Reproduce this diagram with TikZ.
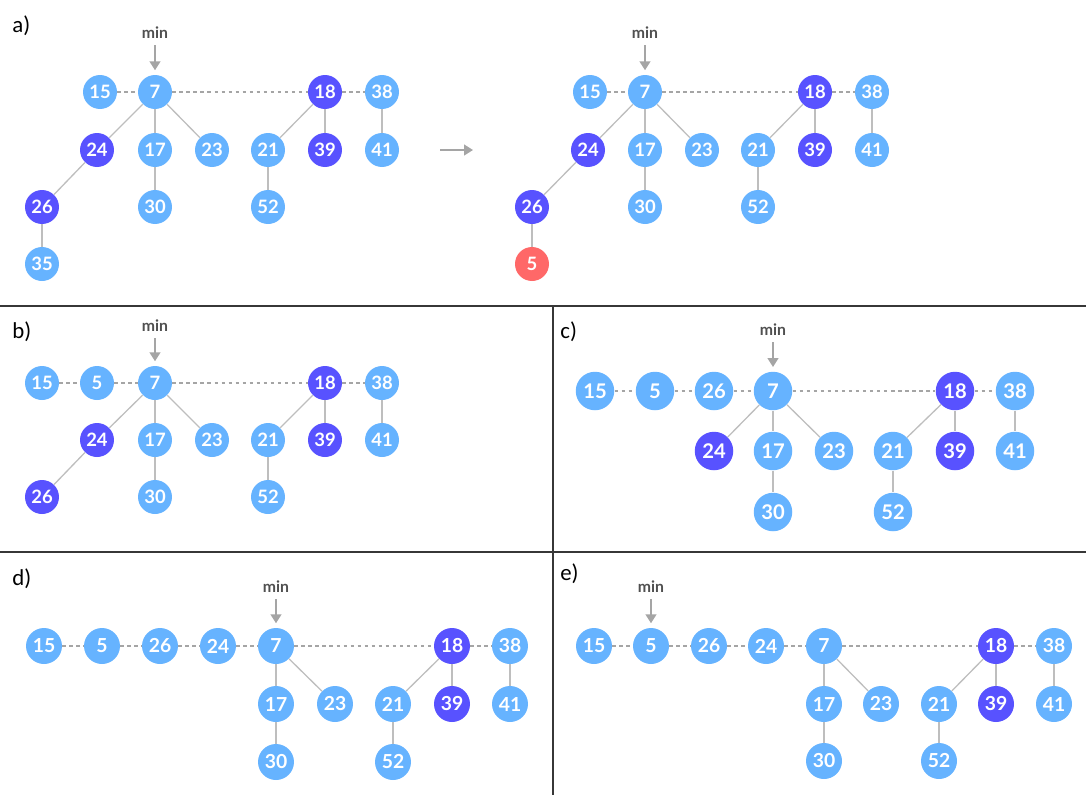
\documentclass[tikz,border=0pt]{standalone}
\usepackage{fontspec}
\setmainfont{Carlito}
\newfontfamily\latofont{Lato}
\usepackage{tikz}
\usetikzlibrary{arrows.meta}
\definecolor{myblue}{RGB}{102,179,255}
\definecolor{mypurple}{RGB}{88,82,255}
\definecolor{myred}{RGB}{255,104,104}
\definecolor{edgegray}{RGB}{190,190,190}
\definecolor{dashgray}{RGB}{165,165,165}
\definecolor{mingray}{RGB}{80,80,80}
\definecolor{framegray}{RGB}{55,55,55}
\tikzset{
  ball/.style={circle, inner sep=0pt, minimum size=0.68cm, text=white,
    font=\latofont\bfseries\fontsize{10.5}{12}\selectfont},
  bnode/.style={ball, fill=myblue},
  pnode/.style={ball, fill=mypurple},
  rnode/.style={ball, fill=myred},
  edge/.style={draw=edgegray, line width=0.75pt},
  rootlink/.style={draw=dashgray, line width=0.6pt, dash pattern=on 2pt off 2pt},
  minlabel/.style={font=\latofont\bfseries\fontsize{9}{11}\selectfont, text=mingray},
  minarrow/.style={-{Triangle[width=6pt,length=5pt]}, draw=dashgray, line width=1.1pt},
  panellabel/.style={font=\fontsize{13}{15}\selectfont, anchor=base west, inner sep=0pt},
  frame/.style={draw=framegray, line width=0.8pt}
}

\begin{document}
\begin{tikzpicture}[x=0.02cm, y=-0.02cm]
  \useasboundingbox (0,0) rectangle (1086,795);
  % Frame
  \draw[frame] (0,306) -- (1086,306);
  \draw[frame] (0,552) -- (1086,552);
  \draw[frame] (553,306) -- (553,795);
  % Panel labels
  \node[panellabel] (la) at (12,32) {a)};
  \node[panellabel] (lb) at (12,338) {b)};
  \node[panellabel] (lc) at (560,338) {c)};
  \node[panellabel] (ld) at (12,585) {d)};
  \node[panellabel] (le) at (560,580) {e)};

  % a) before
  \foreach \n/\x/\y in {15/100/92, 7/155/92, 38/382/92, 17/155/150, 23/212/150,
      21/268/150, 41/382/150, 30/155/207, 52/268/207, 35/42/264}
    \node[bnode] (a\n) at (\x,\y) {\n};
  \foreach \n/\x/\y in {18/325/92, 24/97/150, 39/325/150, 26/42/207}
    \node[pnode] (a\n) at (\x,\y) {\n};
  \foreach \u/\v in {7/24, 7/17, 7/23, 24/26, 26/35, 17/30, 18/21, 18/39, 38/41, 21/52}
    \draw[edge] (a\u) -- (a\v);
  \draw[rootlink] (a15) -- (a7) -- (a18) -- (a38);
  \node[minlabel] (amin) at (155,33) {min};
  \draw[minarrow, shorten >=2.5pt] (amin) -- (a7);
  % step arrow
  \coordinate (stepfrom) at (440,150);
  \coordinate (stepto) at (473,150);
  \draw[minarrow] (stepfrom) -- (stepto);

  % a) after
  \foreach \n/\x/\y in {15/590/92, 7/645/92, 38/872/92, 17/645/150, 23/702/150,
      21/758/150, 41/872/150, 30/645/207, 52/758/207}
    \node[bnode] (r\n) at (\x,\y) {\n};
  \foreach \n/\x/\y in {18/815/92, 24/588/150, 39/815/150, 26/532/207}
    \node[pnode] (r\n) at (\x,\y) {\n};
  \node[rnode] (r5) at (532,264) {5};
  \foreach \u/\v in {7/24, 7/17, 7/23, 24/26, 26/5, 17/30, 18/21, 18/39, 38/41, 21/52}
    \draw[edge] (r\u) -- (r\v);
  \draw[rootlink] (r15) -- (r7) -- (r18) -- (r38);
  \node[minlabel] (rmin) at (645,33) {min};
  \draw[minarrow, shorten >=2.5pt] (rmin) -- (r7);

  % b)
  \foreach \n/\x/\y in {15/42/383, 5/97/383, 7/155/383, 38/382/383, 17/155/440,
      23/212/440, 21/268/440, 41/382/440, 30/155/497, 52/268/497}
    \node[bnode] (b\n) at (\x,\y) {\n};
  \foreach \n/\x/\y in {18/325/383, 24/97/440, 39/325/440, 26/42/497}
    \node[pnode] (b\n) at (\x,\y) {\n};
  \foreach \u/\v in {7/24, 7/17, 7/23, 24/26, 17/30, 18/21, 18/39, 38/41, 21/52}
    \draw[edge] (b\u) -- (b\v);
  \draw[rootlink] (b15) -- (b5) -- (b7) -- (b18) -- (b38);
  \node[minlabel] (bmin) at (155,326) {min};
  \draw[minarrow, shorten >=2.5pt] (bmin) -- (b7);

  % c)
  \begin{scope}[ball/.append style={minimum size=0.77cm,
      font=\latofont\bfseries\fontsize{11.5}{13}\selectfont}]
  \foreach \n/\x/\y in {15/595/391, 5/655/391, 26/714/391, 7/773/391, 38/1015/391,
      17/773/451, 23/834/451, 21/893/451, 41/1015/451, 30/773/512, 52/893/512}
    \node[bnode] (c\n) at (\x,\y) {\n};
  \foreach \n/\x/\y in {18/955/391, 24/714/451, 39/955/451}
    \node[pnode] (c\n) at (\x,\y) {\n};
  \foreach \u/\v in {7/24, 7/17, 7/23, 17/30, 18/21, 18/39, 38/41, 21/52}
    \draw[edge] (c\u) -- (c\v);
  \draw[rootlink] (c15) -- (c5) -- (c26) -- (c7) -- (c18) -- (c38);
  \node[minlabel] (cmin) at (773,330) {min};
  \draw[minarrow, shorten >=2.5pt] (cmin) -- (c7);
  \end{scope}

  % d)
  \begin{scope}[ball/.append style={minimum size=0.72cm,
      font=\latofont\bfseries\fontsize{11}{13}\selectfont}]
  \foreach \n/\x/\y in {15/44/646, 5/102/646, 26/160/646, 24/218/646, 7/276/646,
      38/510/646, 17/276/704, 23/335/704, 21/393/704, 41/510/704, 30/276/762, 52/393/762}
    \node[bnode] (d\n) at (\x,\y) {\n};
  \foreach \n/\x/\y in {18/452/646, 39/452/704}
    \node[pnode] (d\n) at (\x,\y) {\n};
  \foreach \u/\v in {7/17, 7/23, 17/30, 18/21, 18/39, 38/41, 21/52}
    \draw[edge] (d\u) -- (d\v);
  \draw[rootlink] (d15) -- (d5) -- (d26) -- (d24) -- (d7) -- (d18) -- (d38);
  \node[minlabel] (dmin) at (276,587) {min};
  \draw[minarrow, shorten >=2.5pt] (dmin) -- (d7);

  % e)
  \foreach \n/\x/\y in {15/594/646, 5/651/646, 26/709/646, 24/766/646, 7/824/646,
      38/1054/646, 17/824/704, 23/881/704, 21/939/704, 41/1054/704, 30/824/761, 52/939/761}
    \node[bnode] (e\n) at (\x,\y) {\n};
  \foreach \n/\x/\y in {18/996/646, 39/996/704}
    \node[pnode] (e\n) at (\x,\y) {\n};
  \foreach \u/\v in {7/17, 7/23, 17/30, 18/21, 18/39, 38/41, 21/52}
    \draw[edge] (e\u) -- (e\v);
  \draw[rootlink] (e15) -- (e5) -- (e26) -- (e24) -- (e7) -- (e18) -- (e38);
  \node[minlabel] (emin) at (651,587) {min};
  \draw[minarrow, shorten >=2.5pt] (emin) -- (e5);
  \end{scope}
\end{tikzpicture}
\end{document}
